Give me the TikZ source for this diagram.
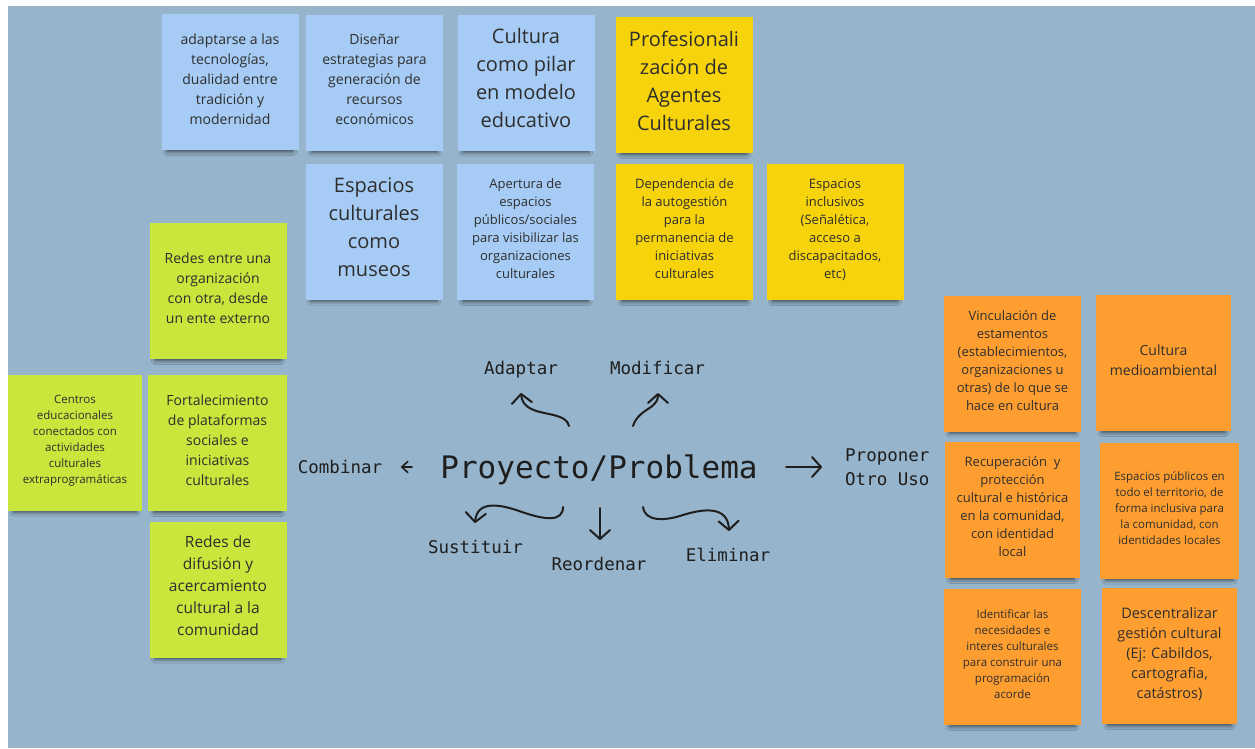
\documentclass[tikz,border=0pt]{standalone}
\usepackage{fontspec}
\setmainfont{Open Sans}
\newfontfamily\monof{DejaVu Sans Mono}
\usetikzlibrary{arrows.meta,shadows.blur}
\definecolor{bgc}{HTML}{96B4CB}
\definecolor{nblue}{HTML}{A6CBF4}
\definecolor{nyellow}{HTML}{F6D30A}
\definecolor{ngreen}{HTML}{C8E63C}
\definecolor{norange}{HTML}{FF9E30}
\definecolor{ntext}{HTML}{2E2E2E}
\definecolor{ink}{HTML}{1E1E1E}
\newcommand{\fs}[2]{\fontsize{#1}{#2}\selectfont}
\begin{document}
\begin{tikzpicture}[x=1pt,y=-1pt,
  note/.style={draw=none, minimum width=137pt, minimum height=136pt, inner sep=0pt,
    align=center, text=ntext,
    execute at begin node={\rule{0pt}{1em}},
    execute at end node={\rule[-\dimexpr 0.4em+1pt\relax]{0pt}{\dimexpr 0.4em+1pt\relax}},
    blur shadow={shadow xshift=0pt, shadow yshift=-8pt, shadow scale=0.92,
      shadow blur radius=4pt, shadow opacity=60}},
  bluenote/.style={note, fill=nblue},
  yellownote/.style={note, fill=nyellow},
  greennote/.style={note, fill=ngreen},
  orangenote/.style={note, fill=norange},
  fa/.style={font=\fs{11.5}{16}},
  fb/.style={font=\fs{13}{18}},
  fc/.style={font=\fs{14}{20}},
  fd/.style={font=\fs{14.5}{20}},
  fe/.style={font=\fs{15.5}{22}},
  ff/.style={font=\fs{20}{28}},
  lbl/.style={font=\monof\fs{17.5}{24}, text=ink, inner sep=0pt, text height=12.5pt, text depth=0pt},
  arr/.style={line width=2pt, draw=ink, line cap=round,
    -{Straight Barb[length=9pt,width=20pt,round]}}
]
\useasboundingbox (0,0) rectangle (1255,748);
\fill[bgc] (8,6) rectangle (1255,748);

% top blue / yellow notes
\node[bluenote, fc] (n1) at (230,82) {adaptarse a las\\tecnologías,\\dualidad entre\\tradición y\\modernidad};
\node[bluenote, fc] (n2) at (374.5,82.5) {Diseñar\\estrategias para\\generación de\\recursos\\económicos};
\node[bluenote, ff] (n3) at (526,82.5) {Cultura\\como pilar\\en modelo\\educativo};
\node[yellownote, ff] (n4) at (684,85) {Profesionali\\zación de\\Agentes\\Culturales};
\node[bluenote, ff] (n5) at (374,231.5) {Espacios\\culturales\\como\\museos};
\node[bluenote, fb] (n6) at (525.5,232) {Apertura de\\espacios\\públicos/sociales\\para visibilizar las\\organizaciones\\culturales};
\node[yellownote, fb] (n7) at (684.5,232) {Dependencia de\\la autogestión\\para la\\permanencia de\\iniciativas\\culturales};
\node[yellownote, fb] (n8) at (835,232) {Espacios\\inclusivos\\(Señalética,\\acceso a\\discapacitados,\\etc)};

% left green notes
\node[greennote, fc] (n9) at (218,291) {Redes entre una\\organización\\con otra, desde\\un ente externo};
\node[greennote, fa, minimum width=134pt] (n10) at (75,442.5) {Centros\\educacionales\\conectados con\\actividades\\culturales\\extraprogramáticas};
\node[greennote, fc, minimum width=139pt] (n11) at (217.5,443) {Fortalecimiento\\de plataformas\\sociales e\\iniciativas\\culturales};
\node[greennote, fe] (n12) at (218,589.5) {Redes de\\difusión y\\acercamiento\\cultural a la\\comunidad};

% right orange notes
\node[orangenote, fb] (n13) at (1012.5,363.5) {Vinculación de\\estamentos\\(establecimientos,\\organizaciones u\\otras) de lo que se\\hace en cultura};
\node[orangenote, fc, minimum width=135pt] (n14) at (1163.5,363) {Cultura\\medioambiental};
\node[orangenote, fb, minimum width=135pt] (n15) at (1012.5,510) {Recuperación\ \ y\\protección\\cultural e histórica\\en la comunidad,\\con identidad\\local};
\node[orangenote, fa, minimum width=139pt] (n16) at (1169.5,510.5) {Espacios públicos en\\todo el territorio, de\\forma inclusiva para\\la comunidad, con\\identidades locales};
\node[orangenote, fa] (n17) at (1012.5,657) {Identificar las\\necesidades e\\interes culturales\\para construir una\\programación\\acorde};
\node[orangenote, fd, minimum width=135pt] (n18) at (1169.5,656) {Descentralizar\\gestión cultural\\(Ej: Cabildos,\\cartografia,\\catástros)};

% centre
\node[font=\monof\fs{31}{36}, text=ink, inner sep=0pt, text height=22.6pt, text depth=0pt] (pp) at (599,467) {Proyecto/Problema};
\node[lbl] (adaptar) at (521,368) {Adaptar};
\node[lbl] (modificar) at (657.5,368) {Modificar};
\node[lbl] (combinar) at (340,467) {Combinar};
\node[lbl] (sustituir) at (475.5,547) {Sustituir};
\node[lbl] (reordenar) at (599,564) {Reordenar};
\node[lbl] (eliminar) at (728,555) {Eliminar};
\node[font=\monof\fs{17.5}{24}, text=ink, inner sep=0pt, align=left, anchor=west] (proponer) at (845,467) {Proponer\\Otro Uso};

% arrow end points
\coordinate (adS) at (569,426);  \coordinate (adE) at (521,393);
\coordinate (moS) at (633,426);  \coordinate (moE) at (658,393);
\coordinate (suS) at (563,507);  \coordinate (suE) at (475,523);
\coordinate (reS) at (600,508);  \coordinate (reE) at (600,540);
\coordinate (elS) at (643,507);  \coordinate (elE) at (729,531);
\coordinate (coS) at (412,467);  \coordinate (coE) at (401,467);
\coordinate (prS) at (786,467);  \coordinate (prE) at (822,467);

\draw[arr] (adS) .. controls (567,416) and (552,415) .. (540,412) .. controls (528,409) and (522,404) .. (adE);
\draw[arr] (moS) .. controls (636,416) and (645,411) .. (651,407) .. controls (656,403) and (658,400) .. (moE);
\draw[arr] (suS) .. controls (563,522) and (545,520) .. (522,512) .. controls (500,504) and (477,500) .. (suE);
\draw[arr] (reS) -- (reE);
\draw[arr] (elS) .. controls (645,522) and (665,521) .. (683,515) .. controls (702,509) and (728,505) .. (elE);
\draw[line width=1.6pt, draw=ink, line cap=round, -{Straight Barb[length=6pt,width=11pt,round]}] (coS) -- (coE);
\draw[arr] (prS) -- (prE);
\end{tikzpicture}
\end{document}
